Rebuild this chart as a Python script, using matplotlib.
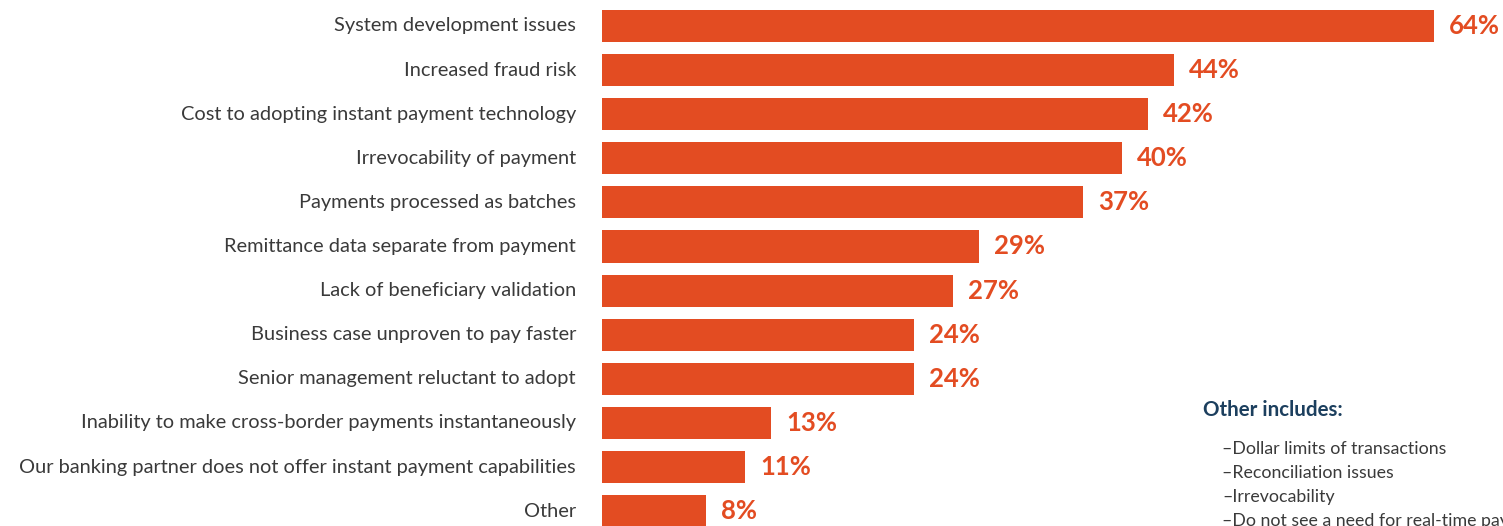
import matplotlib.pyplot as plt
from matplotlib.transforms import offset_copy

categories = [
    "System development issues",
    "Increased fraud risk",
    "Cost to adopting instant payment technology",
    "Irrevocability of payment",
    "Payments processed as batches",
    "Remittance data separate from payment",
    "Lack of beneficiary validation",
    "Business case unproven to pay faster",
    "Senior management reluctant to adopt",
    "Inability to make cross-border payments instantaneously",
    "Our banking partner does not offer instant payment capabilities",
    "Other",
]
shares = [64, 44, 42, 40, 37, 29, 27, 24, 24, 13, 11, 8]

other_items = [
    "–Dollar limits of transactions",
    "–Reconciliation issues",
    "–Irrevocability",
    "–Do not see a need for real-time payments",
]

BAR = "#E34C22"
TEXT = "#3a3a3a"
NAVY = "#1c3f5e"

plt.rcParams["font.family"] = ["Lato", "DejaVu Sans"]

W, H = 1503, 526
fig = plt.figure(figsize=(W / 100, H / 100), dpi=100)
ax = fig.add_axes([602 / W, 0, 1 - 602 / W, 1])

pos = list(range(len(categories)))
ax.barh(pos, shares, height=0.73, color=BAR)
ax.set_xlim(0, (W - 602) / 13)
ax.set_ylim((H - 26) / 44.1, -26 / 44.1)
ax.axis("off")

lab_tr = offset_copy(ax.transData, fig=fig, x=-26, y=0, units="dots")
val_tr = offset_copy(ax.transData, fig=fig, x=15, y=0, units="dots")
for i, (name, v) in enumerate(zip(categories, shares)):
    ax.text(0, i, name, transform=lab_tr, ha="right", va="center",
            fontsize=14.4, color=TEXT, clip_on=False)
    ax.text(v, i, f"{v}%", transform=val_tr, ha="left", va="center",
            fontsize=18.5, fontweight="bold", color=BAR, clip_on=False)

# side note, runs off the right edge like the printed page
fig.text(1203 / W, 1 - 410 / H, "Other includes:", ha="left", va="center",
         fontsize=14.8, fontweight="bold", color=NAVY)
for k, item in enumerate(other_items):
    fig.text(1222 / W, 1 - (449 + 24 * k) / H, item, ha="left", va="center",
             fontsize=12.8, color=TEXT)

fig.savefig("out.png", dpi=100)
